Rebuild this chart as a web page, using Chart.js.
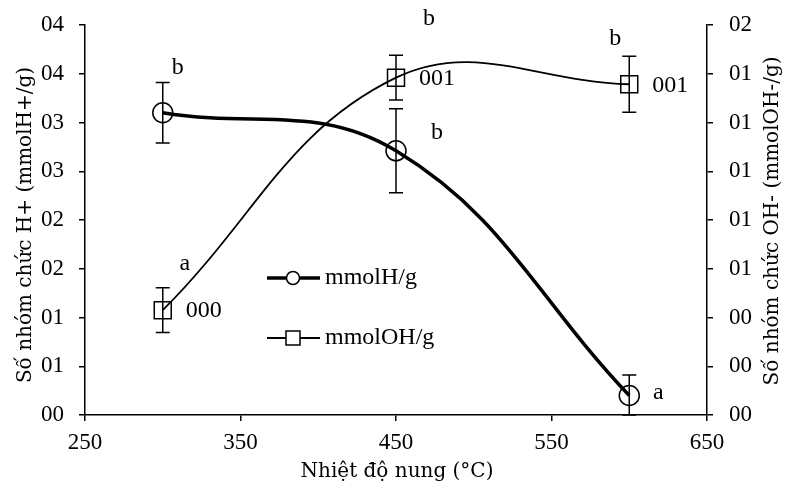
<!DOCTYPE html>
<html><head><meta charset="utf-8">
<script src="https://cdn.jsdelivr.net/npm/chart.js@4.4.1/dist/chart.umd.min.js"></script>
<style>html,body{margin:0;padding:0;background:#fff}#wrap{width:790px;height:494px;position:relative}</style>
</head><body><div id="wrap"><canvas id="c" width="790" height="494"></canvas></div>
<script>
const temperatures = [300, 450, 600];
const hValues = [0.0310, 0.0271, 0.0020];
const hErrors = [0.0031, 0.0043, 0.0021];
const ohValues = [0.0043, 0.01384, 0.01357];
const ohErrors = [0.00092, 0.00092, 0.00115];
const hLetters = ['b', 'b', 'a'];
const ohLetters = ['a', 'b', 'b'];
const ohValueLabels = ['000', '001', '001'];
const leftTickLabels = ['00', '01', '01', '02', '02', '03', '03', '04', '04'];
const rightTickLabels = ['00', '00', '00', '01', '01', '01', '01', '01', '02'];
const xTitle = 'Nhiệt độ nung (°C)';
const leftTitle = 'Số nhóm chức H+ (mmolH+/g)';
const rightTitle = 'Số nhóm chức OH- (mmolOH-/g)';
const seriesNames = ['mmolH/g', 'mmolOH/g'];

const SERIF = '"Liberation Serif", "Times New Roman", serif';
const TITLEFONT = '"DejaVu Serif", serif';

const hLetterOffsets = [[15, -45], [41, -18], [29, -3]];
const ohLetterOffsets = [[22, -46], [33, -59], [-14, -46]];

const extras = {
  id: 'extras',
  afterDatasetsDraw(chart) {
    const ctx = chart.ctx;
    const xs = chart.scales.x, yl = chart.scales.y, yr = chart.scales.y2;
    ctx.save();
    ctx.strokeStyle = '#000';
    ctx.lineWidth = 1.5;
    const cap = 7;
    const drawErr = (vals, errs, sc) => {
      vals.forEach((v, i) => {
        const px = xs.getPixelForValue(temperatures[i]);
        const top = sc.getPixelForValue(v + errs[i]);
        const bot = sc.getPixelForValue(Math.max(0, v - errs[i]));
        ctx.beginPath();
        ctx.moveTo(px, top); ctx.lineTo(px, bot);
        ctx.moveTo(px - cap, top); ctx.lineTo(px + cap, top);
        ctx.moveTo(px - cap, bot); ctx.lineTo(px + cap, bot);
        ctx.stroke();
      });
    };
    drawErr(hValues, hErrors, yl);
    drawErr(ohValues, ohErrors, yr);

    ctx.fillStyle = '#000';
    ctx.font = '24px ' + SERIF;
    ctx.textAlign = 'center';
    ctx.textBaseline = 'middle';
    hValues.forEach((v, i) => {
      const px = xs.getPixelForValue(temperatures[i]);
      const py = yl.getPixelForValue(v);
      ctx.fillText(hLetters[i], px + hLetterOffsets[i][0], py + hLetterOffsets[i][1]);
    });
    ohValues.forEach((v, i) => {
      const px = xs.getPixelForValue(temperatures[i]);
      const py = yr.getPixelForValue(v);
      ctx.fillText(ohLetters[i], px + ohLetterOffsets[i][0], py + ohLetterOffsets[i][1]);
    });
    ctx.textAlign = 'left';
    ohValues.forEach((v, i) => {
      const px = xs.getPixelForValue(temperatures[i]);
      const py = yr.getPixelForValue(v);
      ctx.fillText(ohValueLabels[i], px + 23, py + 1);
    });

    // legend
    const lx0 = 267, lx1 = 320, mx = 293;
    const ly = [278, 338];
    ctx.lineWidth = 3.5;
    ctx.beginPath(); ctx.moveTo(lx0, ly[0]); ctx.lineTo(lx1, ly[0]); ctx.stroke();
    ctx.lineWidth = 1.5;
    ctx.beginPath(); ctx.arc(mx, ly[0], 6.5, 0, Math.PI * 2);
    ctx.fillStyle = '#fff'; ctx.fill(); ctx.stroke();
    ctx.lineWidth = 1.8;
    ctx.beginPath(); ctx.moveTo(lx0, ly[1]); ctx.lineTo(lx1, ly[1]); ctx.stroke();
    ctx.lineWidth = 1.5;
    ctx.fillRect(mx - 7, ly[1] - 7, 14, 14);
    ctx.strokeRect(mx - 7, ly[1] - 7, 14, 14);
    ctx.fillStyle = '#000';
    ctx.font = '24px ' + SERIF;
    ctx.textAlign = 'left';
    ctx.fillText(seriesNames[0], 325, ly[0]);
    ctx.fillText(seriesNames[1], 325, ly[1]);

    // axis titles
    ctx.font = '20px ' + TITLEFONT;
    ctx.textAlign = 'center';
    ctx.fillText(xTitle, 397, 472);
    ctx.save();
    ctx.translate(26, 225); ctx.rotate(-Math.PI / 2);
    ctx.fillText(leftTitle, 0, 0);
    ctx.restore();
    ctx.save();
    ctx.translate(773, 221); ctx.rotate(-Math.PI / 2);
    ctx.fillText(rightTitle, 0, 0);
    ctx.restore();
    ctx.restore();
  }
};

const axisCommon = {
  grid: { display: true, drawOnChartArea: false, drawTicks: true, tickLength: 6, color: '#000', lineWidth: 1.5 },
  border: { display: true, color: '#000', width: 1.5 },
  ticks: { color: '#000', font: { family: SERIF, size: 23 }, autoSkip: false, maxRotation: 0 }
};

function fitY(width) {
  return function (s) { s.width = width; s.paddingTop = 0; s.paddingBottom = 0; };
}

new Chart(document.getElementById('c'), {
  type: 'line',
  data: {
    datasets: [
      {
        label: seriesNames[0],
        data: temperatures.map((t, i) => ({ x: t, y: hValues[i] })),
        yAxisID: 'y',
        borderColor: '#000', borderWidth: 3.5, tension: 0.4,
        pointStyle: 'circle', pointRadius: 10, pointBorderWidth: 1.5,
        pointBackgroundColor: 'rgba(0,0,0,0)', pointBorderColor: '#000'
      },
      {
        label: seriesNames[1],
        data: temperatures.map((t, i) => ({ x: t, y: ohValues[i] })),
        yAxisID: 'y2',
        borderColor: '#000', borderWidth: 1.8, tension: 0.4,
        pointStyle: 'rect', pointRadius: 12, pointBorderWidth: 1.5,
        pointBackgroundColor: 'rgba(0,0,0,0)', pointBorderColor: '#000'
      }
    ]
  },
  options: {
    responsive: false,
    animation: false,
    devicePixelRatio: 1,
    layout: { padding: { top: 25, left: 0, right: 0, bottom: 0 } },
    plugins: { legend: { display: false }, tooltip: { enabled: false } },
    scales: {
      x: {
        type: 'linear', min: 250, max: 650,
        ...axisCommon,
        ticks: { ...axisCommon.ticks, stepSize: 100, padding: 8 },
        afterFit(s) { s.height = 79; s.paddingLeft = 0; s.paddingRight = 0; }
      },
      y: {
        type: 'linear', position: 'left', min: 0, max: 0.04,
        ...axisCommon,
        ticks: { ...axisCommon.ticks, stepSize: 0.005, padding: 15, callback: (v, i) => leftTickLabels[i] },
        afterFit: fitY(85)
      },
      y2: {
        type: 'linear', position: 'right', min: 0, max: 0.016,
        ...axisCommon,
        ticks: { ...axisCommon.ticks, stepSize: 0.002, padding: 16, callback: (v, i) => rightTickLabels[i] },
        afterFit: fitY(83)
      }
    }
  },
  plugins: [extras]
});
</script>
</body></html>
